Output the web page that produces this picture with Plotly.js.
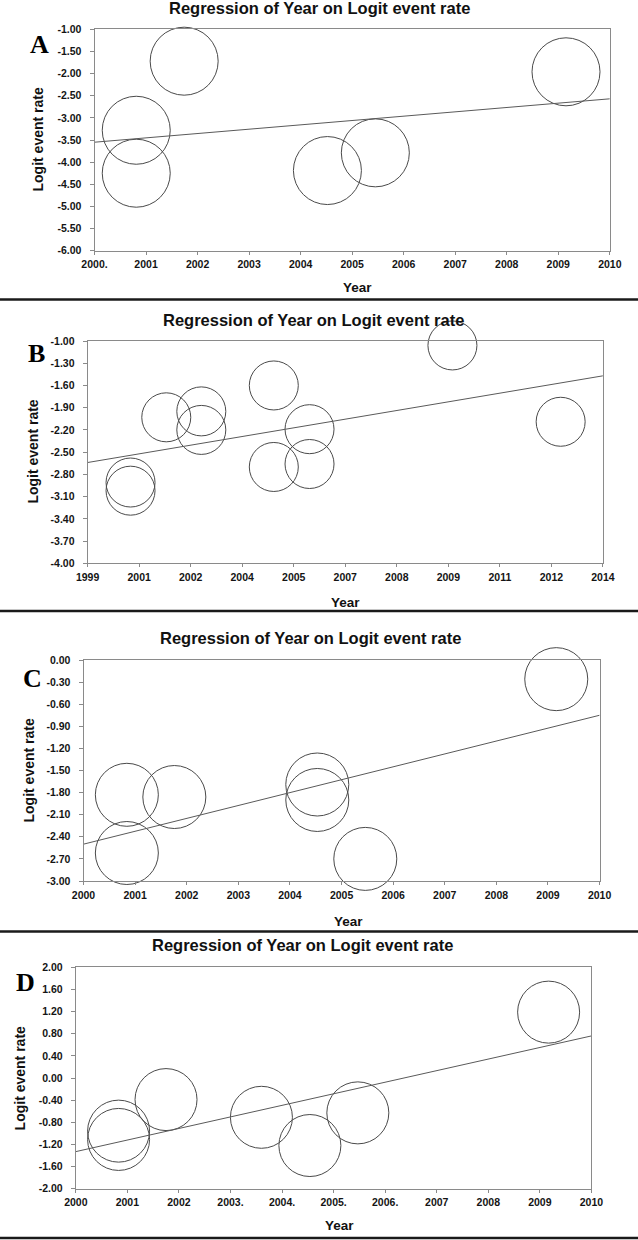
<!DOCTYPE html>
<html>
<head>
<meta charset="utf-8">
<script src="https://cdn.plot.ly/plotly-3.0.1.min.js"></script>
<style>
  html, body { margin: 0; padding: 0; background: #fff; }
  #chart { width: 638px; height: 1240px; }
</style>
</head>
<body>
<div id="chart"></div>
<script>
// ---------------- DATA ----------------
const titleText = "Regression of Year on Logit event rate";
const xTitle = "Year";
const yTitle = "Logit event rate";
const panelLetters = ["A", "B", "C", "D"];

// Panel A
const yearA = [2000.81, 2000.81, 2001.74, 2004.52, 2005.45, 2009.15];
const logitA = [-3.28, -4.25, -1.72, -4.19, -3.79, -1.96];
const fitXA = [2000, 2010];
const fitYA = [-3.55, -2.57];
const xTickValsA = [2000, 2001, 2002, 2003, 2004, 2005, 2006, 2007, 2008, 2009, 2010];
const xTickTextA = ["2000.", "2001", "2002", "2003", "2004", "2005", "2006", "2007", "2008", "2009", "2010"];
const yTickValsA = [-6.0, -5.5, -5.0, -4.5, -4.0, -3.5, -3.0, -2.5, -2.0, -1.5, -1.0];
const yTickTextA = ["-6.00", "-5.50", "-5.00", "-4.50", "-4.00", "-3.50", "-3.00", "-2.50", "-2.00", "-1.50", "-1.00"];

// Panel B
const yearB = [2000.25, 2000.25, 2001.29, 2002.31, 2002.31, 2004.42, 2004.42, 2005.46, 2005.46, 2009.62, 2012.77];
const logitB = [-2.91, -3.02, -2.03, -1.95, -2.20, -1.60, -2.70, -2.19, -2.66, -1.06, -2.09];
const fitXB = [1999, 2014];
const fitYB = [-2.64, -1.47];
const xTickValsB = [1999, 2000.5, 2002, 2003.5, 2005, 2006.5, 2008, 2009.5, 2011, 2012.5, 2014];
const xTickTextB = ["1999", "2001", "2002", "2004", "2005", "2007", "2008", "2009", "2011", "2012", "2014"];
const yTickValsB = [-4.0, -3.7, -3.4, -3.1, -2.8, -2.5, -2.2, -1.9, -1.6, -1.3, -1.0];
const yTickTextB = ["-4.00", "-3.70", "-3.40", "-3.10", "-2.80", "-2.50", "-2.20", "-1.90", "-1.60", "-1.30", "-1.00"];

// Panel C
const yearC = [2000.84, 2000.84, 2001.76, 2004.53, 2004.53, 2005.46, 2009.16];
const logitC = [-1.83, -2.62, -1.86, -1.69, -1.90, -2.70, -0.26];
const fitXC = [2000, 2010];
const fitYC = [-2.50, -0.75];
const xTickValsC = [2000, 2001, 2002, 2003, 2004, 2005, 2006, 2007, 2008, 2009, 2010];
const xTickTextC = ["2000", "2001", "2002", "2003", "2004", "2005", "2006", "2007", "2008", "2009", "2010"];
const yTickValsC = [-3.0, -2.7, -2.4, -2.1, -1.8, -1.5, -1.2, -0.9, -0.6, -0.3, 0.0];
const yTickTextC = ["-3.00", "-2.70", "-2.40", "-2.10", "-1.80", "-1.50", "-1.20", "-0.90", "-0.60", "-0.30", "0.00"];

// Panel D
const yearD = [2000.83, 2000.83, 2001.75, 2003.60, 2004.54, 2005.47, 2009.17];
const logitD = [-0.96, -1.11, -0.39, -0.71, -1.22, -0.63, 1.19];
const fitXD = [2000, 2010];
const fitYD = [-1.33, 0.76];
const xTickValsD = [2000, 2001, 2002, 2003, 2004, 2005, 2006, 2007, 2008, 2009, 2010];
const xTickTextD = ["2000", "2001", "2002", "2003.", "2004.", "2005.", "2006.", "2007", "2008", "2009", "2010"];
const yTickValsD = [-2.0, -1.6, -1.2, -0.8, -0.4, 0.0, 0.4, 0.8, 1.2, 1.6, 2.0];
const yTickTextD = ["-2.00", "-1.60", "-1.20", "-0.80", "-0.40", "0.00", "0.40", "0.80", "1.20", "1.60", "2.00"];

// ---------------- LAYOUT ----------------
const W = 638, H = 1240;
const fx = v => v / W;
const fy = v => 1 - v / H;
const SANS = "Liberation Sans, Arial, Helvetica, sans-serif";
const SERIF = "Liberation Serif, Times New Roman, serif";

const panels = [
  { x: yearA, y: logitA, fx: fitXA, fy: fitYA, xr: [2000, 2010], yr: [-6, -1],
    xtv: xTickValsA, xtt: xTickTextA, ytv: yTickValsA, ytt: yTickTextA,
    box: [94.5, 609.8, 29.3, 250.7], msize: 68,
    title: [320, 8], letter: [40, 44], ytitle: [37.5, 140], xtitle: [357, 287] },
  { x: yearB, y: logitB, fx: fitXB, fy: fitYB, xr: [1999, 2014], yr: [-4, -1],
    xtv: xTickValsB, xtt: xTickTextB, ytv: yTickValsB, ytt: yTickTextB,
    box: [87.6, 602.9, 341, 563.3], msize: 49,
    title: [313, 320], letter: [36, 354], ytitle: [32.6, 452], xtitle: [345, 602] },
  { x: yearC, y: logitC, fx: fitXC, fy: fitYC, xr: [2000, 2010], yr: [-3, 0],
    xtv: xTickValsC, xtt: xTickTextC, ytv: yTickValsC, ytt: yTickTextC,
    box: [83.5, 599.6, 660, 881], msize: 63,
    title: [310, 638], letter: [32, 678], ytitle: [28.5, 770], xtitle: [348, 921] },
  { x: yearD, y: logitD, fx: fitXD, fy: fitYD, xr: [2000, 2010], yr: [-2, 2],
    xtv: xTickValsD, xtt: xTickTextD, ytv: yTickValsD, ytt: yTickTextD,
    box: [75.8, 591.4, 967.3, 1188.7], msize: 62,
    title: [302, 945], letter: [25, 982], ytitle: [20.4, 1078], xtitle: [339, 1225] }
];

const traces = [];
const layout = {
  width: W, height: H,
  margin: { l: 0, r: 0, t: 0, b: 0 },
  paper_bgcolor: "#ffffff",
  plot_bgcolor: "#ffffff",
  showlegend: false,
  annotations: [],
  shapes: []
};

const lineGray = "#8a8a8a";
const tickFont = { family: SANS, size: 10.5, color: "#141414", weight: 700 };

panels.forEach((p, i) => {
  const n = i === 0 ? "" : String(i + 1);
  const xa = "x" + n, ya = "y" + n;
  traces.push({
    type: "scatter", mode: "markers", x: p.x, y: p.y, xaxis: xa, yaxis: ya,
    marker: { symbol: "circle-open", size: p.msize, color: "#4a4a4a", line: { width: 1, color: "#4a4a4a" } },
    cliponaxis: false, hoverinfo: "skip"
  });
  traces.push({
    type: "scatter", mode: "lines", x: p.fx, y: p.fy, xaxis: xa, yaxis: ya,
    line: { color: "#5a5a5a", width: 1 }, cliponaxis: false, hoverinfo: "skip"
  });
  const [l, r, t, b] = p.box;
  layout["xaxis" + n] = {
    domain: [fx(l), fx(r)], anchor: ya, range: p.xr, autorange: false,
    tickmode: "array", tickvals: p.xtv, ticktext: p.xtt,
    showline: true, mirror: true, linecolor: lineGray, linewidth: 1,
    ticks: "outside", ticklen: 3, tickcolor: lineGray, tickwidth: 1,
    showgrid: false, zeroline: false, tickfont: tickFont, fixedrange: true,
    ticklabelstandoff: 1
  };
  layout["yaxis" + n] = {
    domain: [fy(b), fy(t)], anchor: xa, range: p.yr, autorange: false,
    tickmode: "array", tickvals: p.ytv, ticktext: p.ytt,
    showline: true, mirror: true, linecolor: lineGray, linewidth: 1,
    ticks: "outside", ticklen: 4, tickcolor: lineGray, tickwidth: 1,
    showgrid: false, zeroline: false, tickfont: tickFont, fixedrange: true,
    ticklabelstandoff: 6
  };
  layout.annotations.push({
    text: titleText, xref: "paper", yref: "paper", x: fx(p.title[0]), y: fy(p.title[1]),
    xanchor: "center", yanchor: "middle", showarrow: false,
    font: { family: SANS, size: 16.5, color: "#111", weight: 700 }
  });
  layout.annotations.push({
    text: panelLetters[i], xref: "paper", yref: "paper", x: fx(p.letter[0]), y: fy(p.letter[1]),
    xanchor: "center", yanchor: "middle", showarrow: false,
    font: { family: SERIF, size: 26, color: "#000", weight: 700 }
  });
  layout.annotations.push({
    text: yTitle, xref: "paper", yref: "paper", x: fx(p.ytitle[0]), y: fy(p.ytitle[1]),
    xanchor: "center", yanchor: "middle", showarrow: false, textangle: -90,
    font: { family: SANS, size: 14, color: "#111", weight: 700 }
  });
  layout.annotations.push({
    text: xTitle, xref: "paper", yref: "paper", x: fx(p.xtitle[0]), y: fy(p.xtitle[1]),
    xanchor: "center", yanchor: "middle", showarrow: false,
    font: { family: SANS, size: 13.5, color: "#111", weight: 700 }
  });
});

[299.5, 611, 931.5, 1238].forEach(yy => {
  layout.shapes.push({
    type: "line", xref: "paper", yref: "paper", x0: 0, x1: 1, y0: fy(yy), y1: fy(yy),
    line: { color: "#1a1a1a", width: 2.5 }
  });
});

Plotly.newPlot("chart", traces, layout, { displayModeBar: false, staticPlot: true });
</script>
</body>
</html>
